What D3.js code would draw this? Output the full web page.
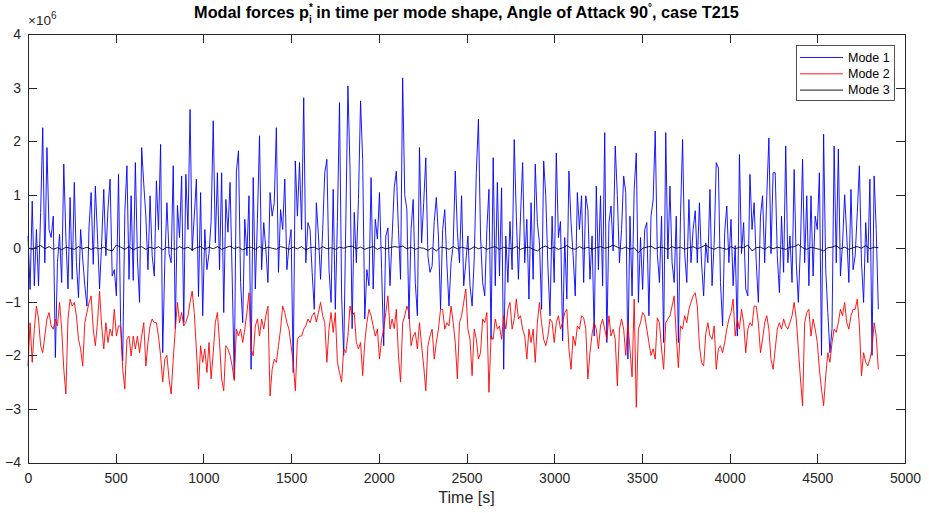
<!DOCTYPE html>
<html><head><meta charset="utf-8">
<script src="https://cdn.jsdelivr.net/npm/d3@7"></script>
<style>body{margin:0;background:#fff}svg{display:block}</style>
</head><body><svg id="c" width="929" height="513"></svg>
<script>
// time step (s) of Mode 1 / Mode 2 samples, values in units of 1e6
const dt12 = 12;
const mode1 = [
0.23,-0.77,0.88,-0.7,0.35,-0.7,0.67,2.25,-0.27,1.88,
0.35,0.2,0.6,-2.04,-0.27,0.26,-0.64,1.57,0.2,-0.76,
0.95,-0.58,1.23,-0.27,-0.92,0.35,-0.2,-0.7,-1.08,0.4,
1.04,-0.3,1.16,0.23,-0.76,0.1,1.1,-0.14,0.73,1.29,
-0.52,-0.4,-0.89,1.38,-1.39,-2.1,0.67,1.54,-0.58,0.98,
-0.6,1.6,-0.2,-1.01,1.88,1.2,0.6,-0.4,0.98,-0.14,
-0.52,1.26,0.35,1.94,-1.95,-0.27,0.85,-0.1,-0.27,1.54,
-1.5,0.8,0.2,1.35,-1.39,1.38,0.35,2.59,-0.05,0.6,
1.29,-0.9,1.04,-1.26,0.35,-0.4,-0.1,0.5,2.38,0.1,
1.41,-0.4,1.41,-1.2,0.91,0.3,1.23,-0.52,-2.44,1.44,
1.82,-0.64,-1.39,0.54,-0.14,0.98,-2.26,1.32,-0.76,0.54,
2.1,-0.4,0.48,-0.02,-0.64,1.04,0.6,0.85,2.25,-0.45,
0.72,0.35,1.29,-0.4,0.05,0.35,-2.32,1.63,0.6,1.6,
0.35,2.81,-0.27,0.48,0.35,-0.45,-1.14,0.85,0.23,-0.58,
0.35,1.41,
1.66,-0.4,-1.01,1.1,-1.14,0.5,2.72,-0.89,-2.0,0.5,
3.03,1.47,-1.5,0.67,-0.27,0.91,2.75,1.66,-1.32,-0.4,
-0.7,1.32,-0.76,0.54,0.17,1.04,-0.4,-1.82,0.23,0.38,
-0.7,0.23,1.13,1.44,0.35,-0.58,3.18,1.0,0.72,-1.32,
0.35,0.91,-0.64,-1.26,1.88,0.1,0.85,1.69,-0.14,-0.45,
-0.33,0.5,0.95,0.23,-1.14,0.35,0.72,-0.27,-1.08,-0.27,
0.05,1.44,0.3,-0.27,0.98,-0.7,-0.27,0.23,-0.7,-1.08,
-0.2,
1.41,2.41,0.23,-0.64,-0.89,0.35,1.1,-1.7,1.69,-0.7,
1.23,-0.52,1.13,-2.26,0.23,-0.64,0.5,-0.4,2.03,0.6,
-0.58,0.6,1.6,-0.27,0.54,-0.95,0.85,-0.58,1.57,0.48,
0.1,-1.14,1.63,0.98,-0.33,-1.26,0.6,-0.64,1.78,0.2,
0.5,-1.73,0.2,-0.95,1.44,0.48,-0.14,-0.89,1.04,0.35,
0.98,-0.64,0.98,0.72,-0.58,0.23,-1.64,1.16,-0.4,0.98,
-0.7,2.16,-1.76,0.48,0.79,-0.05,1.91,0.98,-0.27,0.35,
1.35,
1.04,-2.07,0.6,-0.89,1.1,1.78,-1.01,0.2,-0.77,0.35,
0.48,-1.26,0.6,0.9,2.19,-0.1,-0.64,0.6,-1.76,2.16,
-0.2,1.16,-0.27,-0.64,0.6,-1.76,0.6,2.03,-0.1,-0.64,
0.91,-0.27,0.35,0.7,-0.27,0.85,-0.27,-0.89,0.1,-0.27,
1.1,-0.7,0.1,1.6,1.5,-0.64,-1.45,0.3,0.79,-0.27,
0.54,-0.7,0.05,-1.64,1.75,-0.1,0.48,-0.76,-0.89,1.38,
0.35,0.85,-0.27,-1.01,0.6,0.98,-0.27,0.98,2.06,-0.1,
1.41,
1.41,-0.14,-0.83,0.6,-0.45,1.91,-0.27,0.23,-0.64,1.47,
-0.27,-1.01,0.05,1.66,-0.27,0.98,-0.7,0.98,-0.52,0.6,
0.35,1.41,-2.0,2.13,-0.4,-1.2,-1.95,-1.5,1.91,-0.27,
1.85,-0.52,0.1,1.0,0.23,-0.64,1.1,-0.4,-0.14,0.67,
1.54,-0.27,-1.01,0.48,-0.27,1.29,-2.0,1.35,0.35,-1.14
];
const mode2 = [
-2.2,-1.39,-2.13,-1.51,-1.08,-1.32,-1.82,-1.95,-1.64,-1.32,
-1.2,-1.45,-1.51,-1.32,-1.45,-1.01,-1.51,-2.26,-2.72,-1.32,
-0.95,-1.08,-1.01,-1.26,-1.7,-1.88,-2.2,-1.39,-1.2,-1.01,
-0.89,-1.51,-1.82,-1.39,-0.8,-1.45,-1.88,-1.39,-1.76,-1.51,
-1.64,-1.14,-1.64,-1.45,-1.45,-2.26,-2.63,-1.7,-1.64,-2.01,
-1.64,-1.88,-1.64,-1.95,-1.64,-1.39,-2.2,-1.76,-1.45,-1.32,
-1.39,-1.39,-1.64,-2.01,-2.5,-2.07,-2.0,-2.44,-2.72,-2.07,
-1.51,-1.01,-1.39,-1.2,-1.45,-1.38,-1.26,-1.01,-0.8,-1.2,
-1.88,-2.63,-1.82,-2.13,-1.88,-2.32,-1.76,-2.44,-1.95,-1.39,
-1.2,-1.76,-2.44,-2.66,-1.82,-1.88,-2.0,-2.2,-2.47,-1.51,
-1.64,-1.51,-1.76,-1.51,-1.2,-0.83,-1.88,-2.01,-1.45,-1.32,
-1.64,-1.32,-1.51,-1.26,-1.08,-2.76,-2.26,-2.07,-2.13,-1.82,
-1.51,-1.08,-1.2,-1.39,-1.51,-1.82,-2.13,-2.66,-1.7,-1.64,
-1.64,-1.51,-1.45,-1.32,-1.39,-1.26,-1.2,-1.38,-1.2,-1.01,
-1.26,-1.39,
-2.13,-1.51,-1.2,-1.57,-1.2,-2.13,-2.32,-2.5,-1.88,-1.95,
-1.64,-1.08,-1.26,-1.2,-1.76,-1.88,-1.76,-2.38,-1.76,-1.39,
-1.14,-1.26,-1.45,-1.64,-1.51,-2.07,-1.7,-1.51,-1.2,-0.89,
-1.51,-1.32,-1.5,-1.14,-2.0,-2.5,-1.39,-1.26,-1.08,-1.2,
-1.82,-1.64,-1.57,-1.88,-1.39,-1.82,-2.2,-2.66,-1.82,-1.64,
-1.51,-2.07,-1.76,-1.51,-1.14,-1.14,-1.51,-1.39,-1.45,-1.08,
-1.39,-1.76,-2.44,-1.39,-1.26,-1.01,-0.76,-1.51,-1.7,-2.38,
-1.51,
-1.7,-2.07,-1.95,-1.32,-1.39,-1.2,-2.69,-1.64,-1.7,-1.32,
-1.51,-1.45,-1.7,-1.26,-1.51,-1.14,-1.01,-1.51,-1.32,-0.95,
-1.32,-1.26,-1.51,-1.64,-2.07,-1.51,-1.76,-1.51,-2.13,-1.39,
-1.01,-1.39,-1.7,-1.82,-1.64,-1.32,-1.38,-1.76,-1.39,-1.26,
-1.51,-1.39,-1.2,-1.14,-1.88,-2.26,-1.64,-1.82,-1.45,-1.51,
-1.26,-1.3,-1.5,-2.44,-1.95,-1.6,-1.39,-1.51,-1.88,-1.45,
-1.32,-1.51,-1.7,-1.26,-1.64,-1.51,-1.7,-2.57,-1.51,-1.32,
-1.51,
-2.0,-1.39,-1.88,-2.4,-0.95,-2.97,-1.51,-1.39,-1.2,-1.26,
-1.51,-1.76,-2.0,-1.88,-2.07,-1.3,-1.39,-1.88,-2.26,-1.39,
-1.32,-1.26,-1.08,-0.89,-1.64,-2.23,-1.45,-1.51,-1.26,-1.39,
-1.14,-1.01,-0.89,-0.83,-1.08,-1.82,-2.13,-2.2,-1.6,-1.39,
-1.64,-1.7,-1.45,-2.26,-1.88,-1.82,-1.95,-1.76,-1.51,-1.32,
-1.2,-0.95,-1.64,-1.32,-1.51,-1.14,-1.39,-1.95,-1.51,-1.39,
-1.45,-1.08,-1.08,-1.39,-1.95,-1.7,-1.39,-1.26,-1.51,-2.07,
-2.26,
-1.88,-1.51,-1.39,-1.51,-1.32,-1.45,-1.51,-1.39,-1.26,-1.01,
-1.32,-1.88,-2.44,-2.94,-1.39,-1.2,-1.14,-1.64,-1.32,-1.51,
-1.76,-2.26,-2.63,-2.94,-2.38,-1.95,-2.13,-1.76,-1.51,-1.57,
-1.39,-1.14,-1.26,-1.01,-1.39,-1.51,-1.26,-1.14,-1.14,-0.95,
-1.45,-2.38,-1.95,-2.13,-2.2,-2.07,-1.88,-1.39,-1.64,-2.26
];
// Mode 3 sampled every 24 s
const dt24 = 24;
const mode3 = [
0.01,-0.02,0.02,0.05,-0.01,0.03,-0.02,0.01,-0.03,0.02,0.00,-0.02,0.03,-0.01,0.02,-0.02,0.01,-0.01,0.02,-0.03,
-0.05,0.06,0.02,-0.02,0.03,-0.03,0.01,0.03,-0.02,0.02,-0.01,0.03,-0.03,0.02,0.00,-0.02,0.03,-0.01,0.02,-0.03,
0.01,0.03,-0.02,0.02,-0.01,0.03,-0.02,0.01,0.04,-0.01,0.02,-0.03,0.01,0.02,-0.02,0.03,-0.01,0.02,0.00,-0.02,
0.03,0.01,-0.02,0.02,-0.01,0.03,-0.03,0.01,0.02,-0.02,0.03,-0.01,0.01,-0.02,0.02,0.00,0.03,0.04,-0.01,0.02,
-0.02,0.01,0.03,-0.02,0.02,-0.01,0.01,0.03,0.02,0.04,-0.01,0.02,-0.02,0.01,0.00,-0.04,0.01,-0.05,0.02,0.01,
-0.02,0.03,-0.01,0.02,0.00,-0.02,0.03,-0.01,0.02,-0.02,0.01,0.03,-0.02,0.02,0.00,-0.01,0.03,-0.02,0.01,0.02,
-0.02,-0.05,0.01,0.04,-0.01,0.02,-0.02,0.01,0.05,0.00,-0.02,0.03,-0.01,0.02,-0.02,0.01,0.03,0.00,0.02,0.06,
0.02,-0.01,0.02,-0.02,0.01,-0.08,0.00,0.02,0.04,-0.01,0.02,0.01,-0.02,0.03,0.00,0.02,-0.02,0.01,0.03,-0.01,
0.02,0.06,0.01,-0.02,0.02,0.00,-0.02,0.03,-0.01,0.02,0.01,0.06,-0.05,0.01,0.02,-0.02,0.03,-0.01,0.02,0.00,
-0.02,0.02,0.03,0.07,0.01,-0.02,0.02,0.00,-0.02,-0.05,0.01,0.02,0.05,-0.01,0.02,-0.02,0.01,0.03,0.00,0.05,
-0.01,0.02,0.01
];
const xTicks = [0,500,1000,1500,2000,2500,3000,3500,4000,4500,5000];
const yTicks = [-4,-3,-2,-1,0,1,2,3,4];
const seriesNames = ["Mode 1","Mode 2","Mode 3"];
const seriesColors = ["#0000ff","#ff0000","#000000"];
const xLabel = "Time [s]";

const FONT = "'Liberation Sans', Arial, sans-serif";
const AX = "#262626";
const L = 28, R = 905, T = 34, B = 462.5;
const svg = d3.select("#c");
const x = d3.scaleLinear().domain([0,5000]).range([L,R]);
const y = d3.scaleLinear().domain([-4,4]).range([B,T]);

// data lines
const series = [
  {v: mode1, dt: dt12, c: seriesColors[0]},
  {v: mode2, dt: dt12, c: seriesColors[1]},
  {v: mode3, dt: dt24, c: seriesColors[2]}
];
series.forEach(s => {
  const line = d3.line().x((d,i)=>x(i*s.dt)).y(d=>y(d));
  svg.append("path").datum(s.v).attr("d", line)
    .attr("fill","none").attr("stroke", s.c).attr("stroke-width", 0.9)
    .attr("stroke-linejoin","round");
});

// axes (MATLAB-style box with inward ticks)
function styleAxis(g){
  g.selectAll("path.domain").attr("stroke", AX).attr("stroke-width", 1).attr("shape-rendering","crispEdges");
  g.selectAll(".tick line").attr("stroke", AX).attr("stroke-width", 1).attr("shape-rendering","crispEdges");
  g.selectAll("text").attr("fill", AX).attr("font-family", FONT).attr("font-size", 14);
}
const gb = svg.append("g").attr("transform",`translate(0,${B})`)
  .call(d3.axisBottom(x).tickValues(xTicks).tickSizeInner(-9).tickSizeOuter(0).tickPadding(10.5).tickFormat(d3.format("d")));
styleAxis(gb);
const gt = svg.append("g").attr("transform",`translate(0,${T})`)
  .call(d3.axisTop(x).tickValues(xTicks).tickSizeInner(-9).tickSizeOuter(0).tickFormat(""));
styleAxis(gt);
const gl = svg.append("g").attr("transform",`translate(${L},0)`)
  .call(d3.axisLeft(y).tickValues(yTicks).tickSizeInner(-9).tickSizeOuter(0).tickPadding(7).tickFormat(d3.format("d")));
styleAxis(gl);
const gr = svg.append("g").attr("transform",`translate(${R},0)`)
  .call(d3.axisRight(y).tickValues(yTicks).tickSizeInner(-9).tickSizeOuter(0).tickFormat(""));
styleAxis(gr);

// exponent label
const ex = svg.append("text").attr("x", L).attr("y", T-9).attr("font-family", FONT)
  .attr("font-size", 13.5).attr("fill", AX);
ex.append("tspan").text("\u00d710");
ex.append("tspan").attr("dy", -6).attr("font-size", 10).text("6");

// x label
svg.append("text").attr("x", (L+R)/2).attr("y", 503).attr("text-anchor","middle")
  .attr("font-family", FONT).attr("font-size", 16).attr("fill", AX).text(xLabel);

// title
const tt = svg.append("text").attr("x", (L+R)/2).attr("y", 18).attr("text-anchor","middle")
  .attr("font-family", FONT).attr("font-size", 16.3).attr("font-weight","bold").attr("fill","#000");
tt.append("tspan").text("Modal forces p");
tt.append("tspan").attr("font-size", 10).attr("dy", -7).text("*");
tt.append("tspan").attr("font-size", 10).attr("dx", -4).attr("dy", 12).text("i");
tt.append("tspan").attr("dy", -5).text(" in time per mode shape, Angle of Attack 90");
tt.append("tspan").attr("font-size", 10).attr("dy", -7).text("\u00b0");
tt.append("tspan").attr("dy", 7).text(", case T215");

// legend
const lg = svg.append("g");
lg.append("rect").attr("x", 796.5).attr("y", 45.5).attr("width", 98).attr("height", 55)
  .attr("fill","#fff").attr("stroke", AX).attr("stroke-width", 0.8);
seriesNames.forEach((n,i) => {
  const yy = 57.5 + i*16.3;
  lg.append("line").attr("x1", 800).attr("x2", 843).attr("y1", yy).attr("y2", yy)
    .attr("stroke", seriesColors[i]).attr("stroke-width", 0.9);
  lg.append("text").attr("x", 848).attr("y", yy).attr("dy","0.35em")
    .attr("font-family", FONT).attr("font-size", 12.5).attr("fill","#000").text(n);
});
</script></body></html>
